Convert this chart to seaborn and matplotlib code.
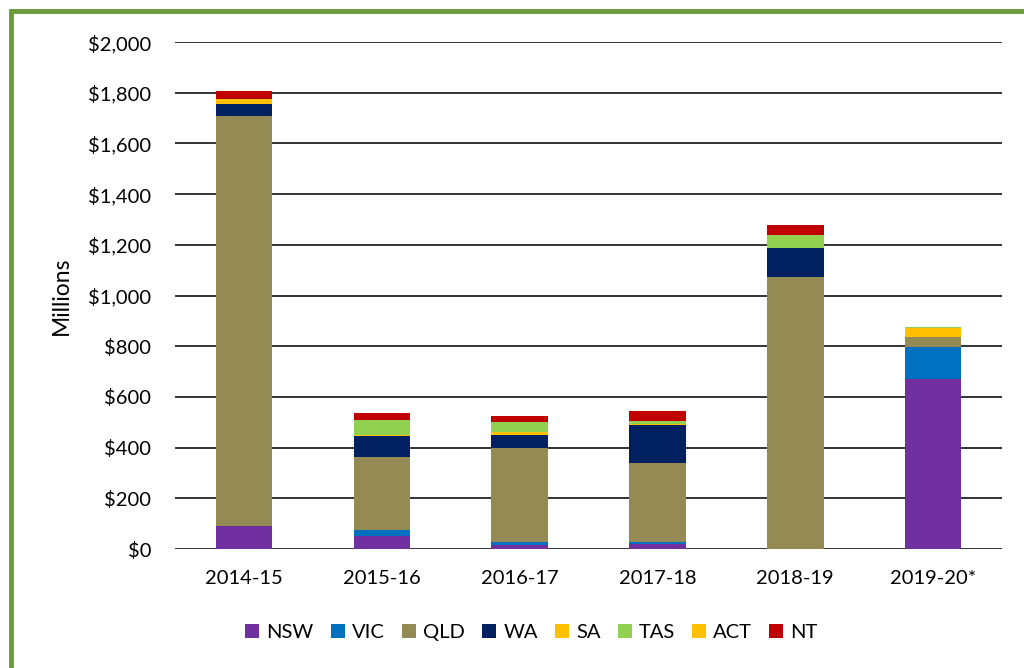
import matplotlib
matplotlib.use("Agg")
import matplotlib.pyplot as plt
from matplotlib.patches import Patch, Rectangle
import numpy as np
import pandas as pd
import seaborn as sns

years = ["2014-15", "2015-16", "2016-17", "2017-18", "2018-19", "2019-20*"]
states = ["NSW", "VIC", "QLD", "WA", "SA", "TAS", "ACT", "NT"]

nsw = [93, 52, 17, 21, 0, 671]
vic = [0, 24, 12, 8, 0, 126]
qld = [1614, 289, 368, 312, 1073, 41]
wa = [47, 82, 55, 150, 114, 0]
sa = [20, 4, 11, 4, 0, 36]
tas = [0, 59, 39, 12, 51, 2]
act = [0, 0, 0, 0, 0, 0]
nt = [35, 25, 24, 36, 39, 0]

colors = {
    "NSW": "#7030A0", "VIC": "#0070C0", "QLD": "#948A54", "WA": "#002060",
    "SA": "#FFC000", "TAS": "#92D050", "ACT": "#FFC000", "NT": "#C00000",
}

df = pd.DataFrame({"year": years, "NSW": nsw, "VIC": vic, "QLD": qld, "WA": wa,
                   "SA": sa, "TAS": tas, "ACT": act, "NT": nt})
cum = df[states].cumsum(axis=1)

sns.set_theme(style="white")
plt.rcParams["font.family"] = ["Lato", "DejaVu Sans"]

fs = 14.5
fig = plt.figure(figsize=(10.24, 6.68), dpi=100)
ax = fig.add_axes([0.171, 0.178, 0.8075, 0.759])

# stacked bars: draw cumulative totals from the top state down
for st in reversed(states):
    sns.barplot(x=df["year"], y=cum[st], color=colors[st], width=0.41,
                saturation=1, ax=ax, linewidth=0, order=years)

ax.set_ylim(0, 2000)
ax.set_xlim(-0.5, 5.5)
ax.set_yticks(np.arange(0, 2001, 200))
ax.set_yticklabels([f"${v:,.0f}" for v in np.arange(0, 2001, 200)], fontsize=fs)
ax.tick_params(axis="y", length=0, pad=17)
ax.tick_params(axis="x", length=0, pad=15, labelsize=fs)
ax.set_xlabel("")
ax.set_ylabel("Millions", fontsize=16.5, labelpad=12)
ax.yaxis.grid(True, color="#333333", linewidth=1.4)
ax.set_axisbelow(True)
for s in ax.spines.values():
    s.set_visible(False)
for lbl in ax.get_xticklabels() + ax.get_yticklabels():
    lbl.set_color("#000000")
ax.yaxis.label.set_color("#000000")

handles = [Patch(facecolor=colors[s], edgecolor="none", label=s) for s in states]
leg = fig.legend(handles=handles, loc="center", bbox_to_anchor=(0.519, 0.053), ncol=8,
                 frameon=False, fontsize=fs, handlelength=0.7, handleheight=0.7,
                 handletextpad=0.35, columnspacing=0.85)
for t in leg.get_texts():
    t.set_color("#000000")

# green chart frame
fig.patches.append(Rectangle((11 / 1024, -0.05), 1.2, (668 - 11) / 668 + 0.05,
                             transform=fig.transFigure, fill=False,
                             edgecolor="#6A9A3A", linewidth=3.5))

fig.savefig("out.png", dpi=100, facecolor="white")
